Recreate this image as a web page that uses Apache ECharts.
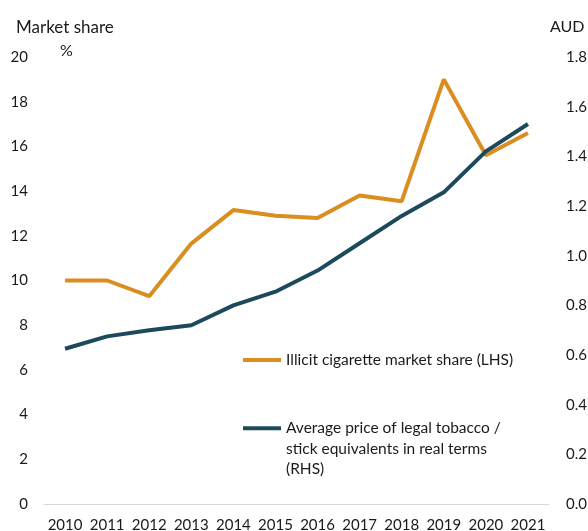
<!DOCTYPE html>
<html>
<head>
<meta charset="utf-8">
<script src="https://cdn.jsdelivr.net/npm/echarts@6/dist/echarts.min.js"></script>
<style>
  html, body { margin: 0; padding: 0; background: #fff; }
  #main { width: 588px; height: 531px; }
</style>
</head>
<body>
<div id="main"></div>
<script>
    // years on the x axis
    var years = ['2010', '2011', '2012', '2013', '2014', '2015', '2016', '2017', '2018', '2019', '2020', '2021'];
    // illicit market share, % (left axis)
    var illicitShare = [10.0, 10.0, 9.3, 11.65, 13.15, 12.9, 12.8, 13.8, 13.55, 19.0, 15.6, 16.6];
    // average price per stick, AUD real (right axis)
    var avgPrice = [0.625, 0.675, 0.70, 0.72, 0.80, 0.855, 0.94, 1.05, 1.16, 1.255, 1.42, 1.53];

    var nameIllicit = 'Illicit cigarette market share (LHS)';
    var namePrice = 'Average price of legal tobacco /\nstick equivalents in real terms\n(RHS)';

    var colorOrange = '#D98E1F';
    var colorBlue = '#1C4A5C';
    var font = 'Lato';
    var textColor = '#1a1a1a';

    var chart = echarts.init(document.getElementById('main'));
    var option = {
        animation: false,
        textStyle: { fontFamily: font, color: textColor },
        title: [
            { text: 'Market share', left: 16, top: 19, padding: 0, textStyle: { fontFamily: font, fontSize: 17, fontWeight: 'normal', color: textColor } },
            { text: '%', left: 60, top: 43, padding: 0, textStyle: { fontFamily: font, fontSize: 16, fontWeight: 'normal', color: textColor } },
            { text: 'AUD', left: 550, top: 19, padding: 0, textStyle: { fontFamily: font, fontSize: 16, fontWeight: 'normal', color: textColor } }
        ],
        // year labels are cut by the bottom edge in the original, so no auto shrinking
        grid: { left: 44, right: 39, top: 57, bottom: 27, containLabel: false, outerBoundsMode: 'none' },
        legend: [
            {
                data: [nameIllicit],
                left: 236, top: 347,
                itemWidth: 38, itemHeight: 14,
                itemStyle: { opacity: 0 },
                lineStyle: { width: 4 },
                textStyle: { fontFamily: font, fontSize: 15.5, color: textColor }
            },
            {
                data: [namePrice],
                left: 236, top: 372,
                itemWidth: 38, itemHeight: 14,
                itemStyle: { opacity: 0 },
                lineStyle: { width: 4 },
                // two empty lines on top keep the icon level with the first line
                formatter: function (name) { return '\n\n' + name; },
                textStyle: { fontFamily: font, fontSize: 15.5, lineHeight: 20.5, color: textColor }
            }
        ],
        xAxis: {
            type: 'category',
            data: years,
            boundaryGap: true,
            axisLine: { show: true, lineStyle: { color: '#d9d9d9', width: 1 } },
            axisTick: { show: false },
            axisLabel: { fontFamily: font, fontSize: 15, color: textColor, margin: 14, interval: 0 }
        },
        yAxis: [
            {
                type: 'value',
                min: 0, max: 20, interval: 2,
                splitLine: { show: false },
                axisLine: { show: false },
                axisTick: { show: false },
                axisLabel: { fontFamily: font, fontSize: 15, color: textColor, margin: 16 }
            },
            {
                type: 'value',
                position: 'right',
                min: 0, max: 1.8, interval: 0.2,
                splitLine: { show: false },
                axisLine: { show: false },
                axisTick: { show: false },
                axisLabel: {
                    fontFamily: font, fontSize: 15, color: textColor, margin: 17, align: 'left',
                    formatter: function (v) { return v.toFixed(1); }
                }
            }
        ],
        series: [
            {
                name: nameIllicit,
                type: 'line',
                yAxisIndex: 0,
                data: illicitShare,
                symbol: 'none',
                lineStyle: { color: colorOrange, width: 4 },
                itemStyle: { color: colorOrange }
            },
            {
                name: namePrice,
                type: 'line',
                yAxisIndex: 1,
                data: avgPrice,
                symbol: 'none',
                lineStyle: { color: colorBlue, width: 4 },
                itemStyle: { color: colorBlue }
            }
        ]
    };
    chart.setOption(option);
</script>
</body>
</html>
